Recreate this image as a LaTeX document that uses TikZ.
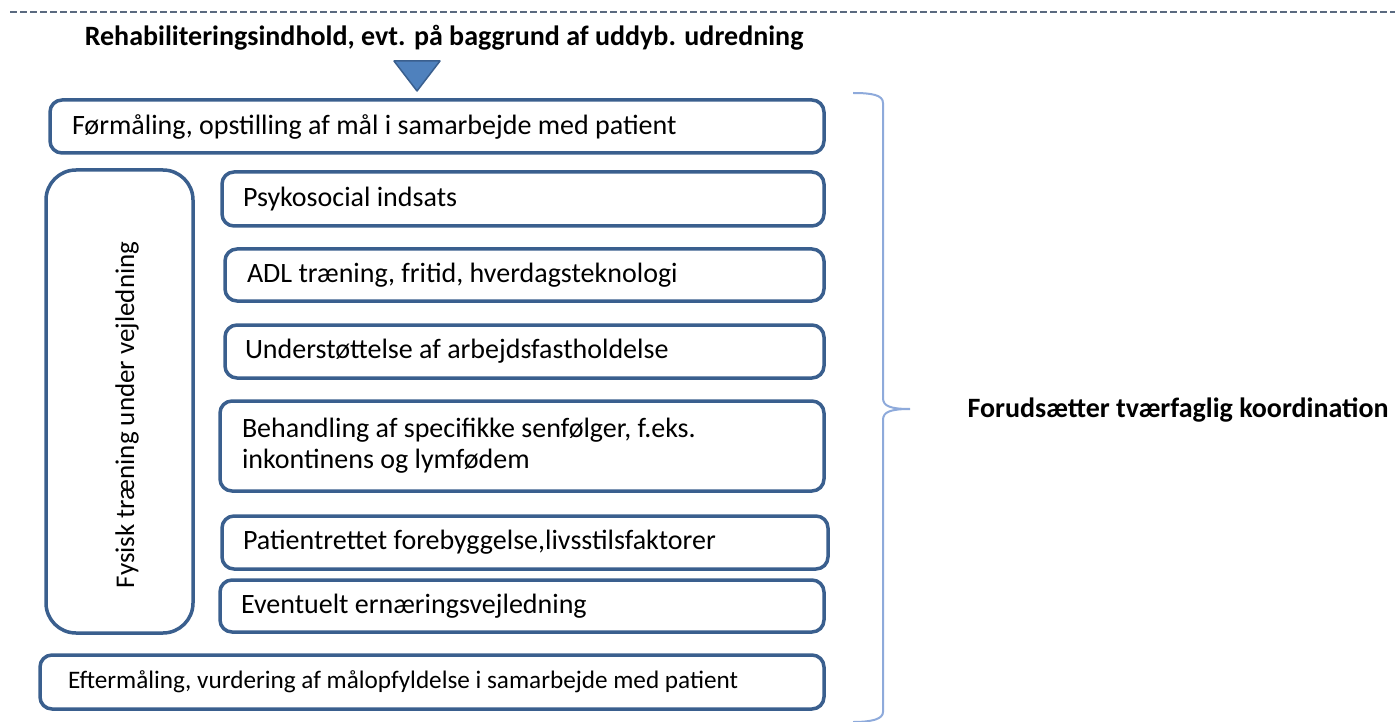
\documentclass[tikz,border=0pt]{standalone}
\usepackage{fontspec}
\setmainfont{Carlito}
\definecolor{boxblue}{HTML}{3A5F8E}
\definecolor{trifill}{HTML}{4F81BD}
\definecolor{bracecol}{HTML}{8EAADB}
\definecolor{dashcol}{HTML}{5A6A80}
\newcommand{\myfont}{\fontsize{28}{31}\selectfont}
\newcommand{\myvfont}{\fontsize{27}{31}\selectfont}
\newcommand{\mysmallfont}{\fontsize{25.2}{29}\selectfont}
\newcommand{\mybfont}{\fontsize{28}{31}\selectfont\bfseries}
\begin{document}
\begin{tikzpicture}[x=1pt,y=-1pt,
  txt/.style={font=\myvfont},
  btxt/.style={font=\mybfont},
  ibox/.style={draw=boxblue, line width=3.5pt, rounded corners=12pt, align=left,
    inner ysep=0pt, font=\myfont, fill=white,
    execute at begin node={\spaceskip=0pt\xspaceskip=0pt\hyphenpenalty=10000\relax}}]
\useasboundingbox (0,0) rectangle (1395,722);
% dashed rule
\coordinate (dl) at (10,12);
\coordinate (dr) at (1395,12);
\draw[dashcol, line width=1.3pt, dash pattern=on 7pt off 3pt] (dl) -- (dr);
% title
\node[btxt] (title) at (444,38) {Rehabiliteringsindhold, evt. på baggrund af uddyb. udredning};
% triangle
\coordinate (t1) at (394,61);
\coordinate (t2) at (440,61);
\coordinate (t3) at (417,91);
\draw[fill=trifill, draw=boxblue, line width=1.5pt, line join=round] (t1) -- (t2) -- (t3) -- cycle;
% boxes
\node[ibox, minimum width=774pt, minimum height=53pt, inner xsep=22pt, text width=730pt] (form) at (437,126.5) {Førmåling, opstilling af mål i samarbejde med patient};
\node[draw=boxblue, line width=3.5pt, rounded corners=30pt, minimum width=147pt, minimum height=463pt] (fys) at (119.5,401.5) {};
\node[txt, rotate=90] (fystxt) at (127,415) {Fysisk træning under vejledning};
\node[ibox, minimum width=602pt, minimum height=54pt, inner xsep=21pt, text width=560pt] (psyk) at (523,199) {Psykosocial indsats};
\node[ibox, minimum width=599pt, minimum height=52pt, inner xsep=22pt, text width=555pt] (adl) at (524.5,275) {ADL træning, fritid, hverdagsteknologi};
\node[ibox, minimum width=599pt, minimum height=53pt, inner xsep=20pt, text width=559pt] (und) at (524.5,351.5) {Understøttelse af arbejdsfastholdelse};
\node[ibox, minimum width=604pt, minimum height=90pt, inner xsep=22pt, text width=560pt] (beh) at (522,446) {Behandling af specifikke senfølger, f.eks.\\ inkontinens og lymfødem};
\node[ibox, minimum width=606pt, minimum height=53pt, inner xsep=21pt, text width=564pt] (pat) at (525,542.5) {Patientrettet forebyggelse,livsstilsfaktorer};
\node[ibox, minimum width=604pt, minimum height=52pt, inner xsep=21pt, text width=562pt] (eve) at (522,606) {Eventuelt ernæringsvejledning};
\node[ibox, font=\mysmallfont, minimum width=784pt, minimum height=54pt, inner xsep=28pt, text width=728pt] (eft) at (432,682) {Eftermåling, vurdering af målopfyldelse i samarbejde med patient};
% brace
\coordinate (b1) at (853,93);
\coordinate (b2) at (883,103);
\coordinate (b3) at (883,398);
\coordinate (btip) at (910,409);
\coordinate (b4) at (883,420);
\coordinate (b5) at (883,712);
\coordinate (b6) at (853,722);
\draw[bracecol, line width=2pt] (b1) .. controls (872,93) and (883,95) .. (b2) -- (b3)
  .. controls (883,406) and (890,409) .. (btip) .. controls (890,409) and (883,412) .. (b4)
  -- (b5) .. controls (883,719) and (872,722) .. (b6);
\node[btxt, anchor=west] (koord) at (964,410) {Forudsætter tværfaglig koordination};
\end{tikzpicture}
\end{document}
